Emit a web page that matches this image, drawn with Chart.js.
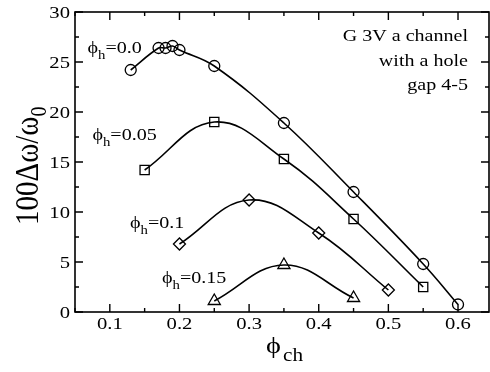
<!DOCTYPE html>
<html>
<head>
<meta charset="utf-8">
<script src="https://cdn.jsdelivr.net/npm/chart.js@4/dist/chart.umd.min.js"></script>
<style>
  html, body { margin: 0; padding: 0; background: #fff; overflow: hidden; }
  #wrap { width: 490px; height: 372px; }
</style>
</head>
<body>
<div id="wrap"><canvas id="c" width="490" height="372"></canvas></div>
<script>
// phi_ch values and 100*dw/w0
const phi00X = [0.13, 0.17, 0.18, 0.19, 0.20, 0.25, 0.35, 0.45, 0.55, 0.60];
const phi00Y = [24.2, 26.4, 26.4, 26.6, 26.2, 24.6, 18.9, 12.0, 4.8, 0.75];
const phi05X = [0.15, 0.25, 0.35, 0.45, 0.55];
const phi05Y = [14.2, 19.0, 15.3, 9.3, 2.5];
const phi10X = [0.20, 0.30, 0.40, 0.50];
const phi10Y = [6.8, 11.2, 7.9, 2.2];
const phi15X = [0.25, 0.35, 0.45];
const phi15Y = [1.1, 4.7, 1.4];

const seriesNames = ['0.0', '0.05', '0.1', '0.15'];
const xTicks = [0.1, 0.2, 0.3, 0.4, 0.5, 0.6];
const yTicks = [0, 5, 10, 15, 20, 25, 30];
const xMinor = [0.05, 0.15, 0.25, 0.35, 0.45, 0.55, 0.65];
const yMinor = [2.5, 7.5, 12.5, 17.5, 22.5, 27.5];
const noteLines = ['G 3V a channel', 'with a hole', 'gap 4-5'];

const serif = '"Liberation Serif", "DejaVu Serif", serif';
const SX = 1.18; // the original text is a bit wide for its height
const PHI = '\u03d5';

function pts(xs, ys) {
  return xs.map((x, i) => ({ x: x, y: ys[i] }));
}

function series(xs, ys, style, r) {
  return {
    data: pts(xs, ys),
    showLine: true,
    tension: 0.4,
    borderColor: '#000',
    borderWidth: 1.6,
    backgroundColor: 'rgba(0,0,0,0)',
    pointStyle: style,
    pointRadius: r,
    pointBorderWidth: 1.3,
    pointBorderColor: '#000',
    pointBackgroundColor: 'rgba(0,0,0,0)'
  };
}

// draws text stretched sideways, returns its drawn width
function wtext(ctx, str, x, y, size, align) {
  ctx.font = size + 'px ' + serif;
  const w = ctx.measureText(str).width * SX;
  let x0 = x;
  if (align === 'right') x0 = x - w;
  else if (align === 'center') x0 = x - w / 2;
  ctx.save();
  ctx.translate(x0, y);
  ctx.scale(SX, 1);
  ctx.textAlign = 'left';
  ctx.fillText(str, 0, 0);
  ctx.restore();
  return w;
}

// frame, inward ticks, labels and axis titles
const decor = {
  id: 'decor',
  afterDraw(chart) {
    const ctx = chart.ctx;
    const a = chart.chartArea;
    const xs = chart.scales.x, ys = chart.scales.y;
    ctx.save();
    ctx.strokeStyle = '#000';
    ctx.lineWidth = 1.6;
    ctx.strokeRect(a.left, a.top, a.right - a.left, a.bottom - a.top);

    ctx.lineWidth = 1.4;
    ctx.beginPath();
    const tick = (vals, len) => {
      vals.forEach(v => {
        const px = xs.getPixelForValue(v);
        if (px < a.left - 0.5 || px > a.right + 0.5) return;
        ctx.moveTo(px, a.bottom); ctx.lineTo(px, a.bottom - len);
        ctx.moveTo(px, a.top); ctx.lineTo(px, a.top + len);
      });
    };
    const ytick = (vals, len) => {
      vals.forEach(v => {
        const py = ys.getPixelForValue(v);
        ctx.moveTo(a.left, py); ctx.lineTo(a.left + len, py);
        ctx.moveTo(a.right, py); ctx.lineTo(a.right - len, py);
      });
    };
    tick(xTicks, 8); tick(xMinor, 4);
    ytick(yTicks, 8); ytick(yMinor, 4);
    ctx.stroke();

    ctx.fillStyle = '#000';
    ctx.textBaseline = 'alphabetic';

    // tick labels
    xTicks.forEach(v => {
      wtext(ctx, v.toFixed(1), xs.getPixelForValue(v), a.bottom + 17, 17.5, 'center');
    });
    yTicks.forEach(v => {
      wtext(ctx, String(v), a.left - 5, ys.getPixelForValue(v) + 6, 17.5, 'right');
    });

    // series labels  phi_h = ...
    const labelAt = [[0.068, 25.9], [0.075, 17.2], [0.129, 8.4], [0.175, 2.9]];
    seriesNames.forEach((n, i) => {
      let x = xs.getPixelForValue(labelAt[i][0]);
      const y = ys.getPixelForValue(labelAt[i][1]);
      x += wtext(ctx, PHI, x, y, 17, 'left');
      x += wtext(ctx, 'h', x, y + 6, 12.5, 'left');
      wtext(ctx, '=' + n, x, y, 17, 'left');
    });

    // note in the upper right
    noteLines.forEach((t, i) => wtext(ctx, t, 468, 41 + i * 24.5, 17, 'right'));

    // x title
    wtext(ctx, PHI, 266, 353, 24, 'left');
    wtext(ctx, 'ch', 283, 361, 18, 'left');

    // y title
    ctx.translate(38, 225);
    ctx.rotate(-Math.PI / 2);
    ctx.scale(1, SX);
    ctx.font = '29px ' + serif;
    const main = '100\u0394\u03c9/\u03c9';
    ctx.fillText(main, 0, 0);
    const w = ctx.measureText(main).width;
    ctx.font = '20px ' + serif;
    ctx.fillText('0', w, 7);
    ctx.restore();
  }
};

new Chart(document.getElementById('c'), {
  type: 'scatter',
  data: {
    datasets: [
      series(phi00X, phi00Y, 'circle', 5.5),
      series(phi05X, phi05Y, 'rect', 6.5),
      series(phi10X, phi10Y, 'rectRot', 6),
      series(phi15X, phi15Y, 'triangle', 7)
    ]
  },
  options: {
    responsive: false,
    animation: false,
    layout: { autoPadding: false, padding: { left: 0, top: 12, right: 1, bottom: 0 } },
    plugins: { legend: { display: false }, tooltip: { enabled: false } },
    scales: {
      x: {
        type: 'linear',
        min: 0.05,
        max: 0.6445,
        grid: { display: false, drawTicks: false },
        border: { display: false },
        afterBuildTicks: s => { s.ticks = xTicks.map(v => ({ value: v })); },
        afterFit: s => { s.height = 60; },
        ticks: { display: false }
      },
      y: {
        min: 0,
        max: 30,
        grid: { display: false, drawTicks: false },
        border: { display: false },
        afterBuildTicks: s => { s.ticks = yTicks.map(v => ({ value: v })); },
        afterFit: s => { s.width = 75; },
        ticks: { display: false }
      }
    }
  },
  plugins: [decor]
});
</script>
</body>
</html>
